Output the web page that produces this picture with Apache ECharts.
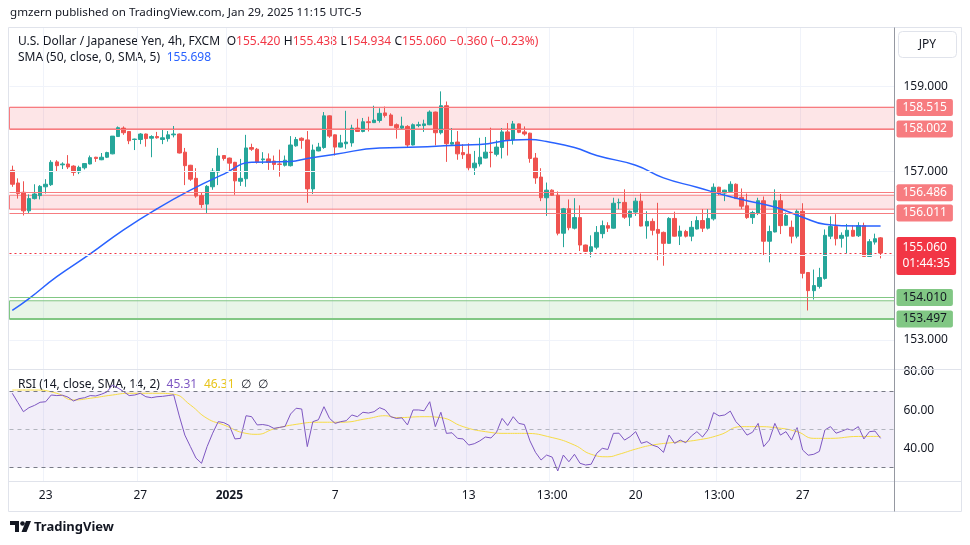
<!DOCTYPE html>
<html lang="en">
<head>
<meta charset="UTF-8">
<title>USDJPY 4h</title>
<script src="https://cdn.jsdelivr.net/npm/echarts@6/dist/echarts.min.js"></script>
<style>
html, body { margin: 0; padding: 0; background: #fff; }
#main { width: 970px; height: 545px; }
</style>
</head>
<body>
<div id="main"></div>
<script>
// 4h candles (oldest first)
var opens = [157.02,156.72,156.50,156.06,156.35,156.42,156.63,156.68,157.22,157.15,
157.17,157.12,156.98,157.08,157.17,157.33,157.27,157.33,157.41,157.82,
158.02,157.94,157.75,157.75,157.88,157.78,157.82,157.75,157.77,157.86,
157.88,157.45,157.14,156.83,156.42,156.22,156.63,156.98,157.37,157.31,
157.21,156.76,156.82,157.56,157.52,157.27,157.29,157.24,157.17,157.14,
157.13,157.60,157.78,157.74,156.58,157.48,157.56,158.31,157.86,157.57,
157.65,157.67,158.02,157.94,158.17,158.15,158.20,158.38,158.33,158.10,
158.02,158.06,157.62,158.08,158.08,158.10,158.40,157.91,158.55,157.64,
157.69,157.44,157.40,157.08,157.17,157.31,157.45,157.40,157.56,157.93,
157.74,158.12,157.93,157.90,157.31,156.86,156.37,156.55,156.43,155.53,
156.11,155.65,155.90,155.25,155.10,155.20,155.52,155.71,155.65,156.25,
156.26,155.91,156.03,156.29,155.70,155.81,155.62,155.55,155.29,155.88,
155.46,155.57,155.46,155.63,155.83,155.65,155.87,156.62,156.48,156.52,
156.69,156.38,156.18,155.90,156.01,156.30,155.34,155.56,156.30,155.72,
155.67,155.46,156.05,154.60,154.17,154.27,154.46,155.46,155.69,155.41,
155.46,155.60,155.47,155.71,154.98,155.32,155.42];
var closes = [156.69,156.47,156.06,156.35,156.46,156.64,156.69,157.21,157.13,157.17,
157.10,156.97,157.09,157.18,157.32,157.30,157.33,157.44,157.83,158.03,
157.91,157.72,157.76,157.88,157.77,157.82,157.79,157.79,157.86,157.88,
157.43,157.13,156.81,156.41,156.21,156.64,157.00,157.36,157.30,157.19,
156.77,156.83,157.55,157.52,157.22,157.29,157.21,157.16,157.16,157.26,
157.62,157.75,157.73,156.58,157.50,157.57,158.31,157.83,157.57,157.67,
157.69,158.02,157.94,158.17,158.15,158.21,158.37,158.32,158.08,158.03,
158.07,157.62,158.10,158.10,158.12,158.40,157.91,158.55,157.65,157.68,
157.41,157.39,157.08,157.19,157.33,157.45,157.44,157.57,157.93,157.74,
158.12,157.92,157.88,157.30,156.84,156.37,156.55,156.43,155.53,156.11,
155.66,155.90,155.25,155.10,155.21,155.55,155.71,155.65,156.24,156.26,
155.91,156.05,156.29,155.70,155.81,155.60,155.53,155.29,155.88,155.46,
155.58,155.46,155.67,155.83,155.65,155.88,156.62,156.47,156.55,156.69,
156.35,156.17,155.90,156.02,156.30,155.34,155.57,156.30,155.71,155.95,
155.46,156.05,154.58,154.17,154.29,154.48,155.48,155.69,155.40,155.48,
155.60,155.46,155.71,154.98,155.33,155.40,155.06];
var lows = [156.63,156.35,155.95,155.99,156.33,156.33,156.47,156.65,156.98,157.05,
157.05,156.89,156.93,157.04,157.16,157.22,157.26,157.31,157.40,157.81,
157.86,157.64,157.50,157.64,157.58,157.33,157.77,157.64,157.70,157.80,
157.42,156.67,156.77,156.37,156.13,156.01,156.56,156.67,157.25,157.01,
156.44,156.65,156.63,157.48,157.18,157.17,157.03,157.03,156.87,157.11,
157.11,157.58,157.53,156.25,156.46,157.47,157.53,157.79,157.37,157.56,
157.53,157.58,157.93,157.92,157.94,158.14,158.15,158.27,158.07,157.77,
158.00,157.56,157.61,158.04,157.93,158.09,157.61,157.87,157.22,157.63,
157.27,157.29,157.02,156.91,157.11,157.30,157.09,157.35,157.30,157.37,
157.63,157.90,157.84,157.20,156.70,156.29,155.94,156.42,155.48,155.20,
155.60,155.62,155.11,155.09,154.96,155.15,155.41,155.56,155.64,156.10,
155.87,155.70,155.94,155.69,155.40,155.48,154.89,154.76,155.28,155.45,
155.25,155.43,155.34,155.62,155.56,155.62,155.83,156.43,156.29,156.49,
156.34,156.10,155.87,155.75,155.96,155.01,154.84,155.55,155.51,155.71,
155.29,155.41,154.46,153.70,153.96,154.22,154.43,155.39,155.24,155.19,
155.05,155.45,155.44,154.97,154.97,155.26,154.934];
var highs = [157.13,156.83,156.76,156.45,156.69,156.67,156.81,157.26,157.26,157.21,
157.38,157.14,157.13,157.19,157.37,157.34,157.43,157.46,157.83,158.06,
158.06,157.95,157.77,157.90,157.89,157.85,157.93,157.98,157.95,158.07,
157.89,157.55,157.15,157.07,156.49,156.67,157.07,157.55,157.38,157.32,
157.22,157.29,157.86,157.65,157.55,157.45,157.42,157.37,157.51,157.37,
157.83,157.81,157.80,157.95,157.63,157.67,158.40,158.32,157.87,157.86,
158.43,158.10,158.24,158.26,158.29,158.55,158.49,158.53,158.37,158.13,
158.29,158.09,158.13,158.17,158.22,158.44,158.41,158.89,158.65,158.02,
157.95,157.64,157.66,157.48,157.79,157.81,158.03,157.73,158.02,158.14,
158.19,158.13,158.06,157.91,157.43,157.07,156.73,156.57,156.52,156.13,
156.33,156.36,156.19,155.26,155.48,155.70,155.83,155.79,156.37,156.35,
156.57,156.07,156.37,156.47,156.05,155.88,156.25,155.57,155.91,156.04,
155.71,155.61,155.82,155.93,156.10,156.10,156.71,156.63,156.56,156.76,
156.71,156.59,156.47,156.06,156.37,156.40,155.71,156.57,156.46,156.02,
155.83,156.09,156.24,154.60,154.67,154.71,155.62,155.93,155.98,155.55,
155.75,155.71,155.79,155.78,155.39,155.52,155.438];

// SMA(50) read at some bars
var smaIdx = [0,3,8,14,20,26,32,38,43,50,53,58,66,73,79,84,90,93,96,101,105,112,117,123,128,132,137,142,146,149,156];
var smaVal = [153.70,153.98,154.50,155.04,155.61,156.11,156.55,156.93,157.21,157.23,157.30,157.40,157.55,157.57,157.61,157.63,157.74,157.75,157.70,157.56,157.37,157.14,156.84,156.62,156.43,156.30,156.15,155.91,155.74,155.71,155.70];

// RSI(14) per bar
var rsi = [68.8,64.0,59.2,61.3,62.5,64.1,64.4,67.9,67.6,67.8,
66.8,64.8,66.0,66.5,67.6,67.4,68.3,69.5,73.1,71.5,
69.7,67.6,67.9,68.8,67.0,66.5,67.0,67.2,67.6,68.0,
57.0,47.0,41.0,35.0,32.3,41.0,48.0,54.0,53.5,52.0,
45.0,45.3,57.1,56.6,52.3,52.5,52.0,50.5,51.0,51.5,
58.0,61.0,60.6,41.0,54.0,55.0,61.8,55.7,53.1,54.0,
54.5,57.5,56.6,58.9,58.5,59.2,61.3,60.1,56.6,55.7,
56.0,52.3,60.1,60.1,59.7,64.4,51.4,58.9,47.9,48.2,
45.3,45.0,41.8,42.5,44.0,46.0,45.5,48.5,55.7,52.0,
56.6,53.1,52.5,44.0,38.0,34.0,36.6,35.5,28.3,36.6,
33.1,37.0,32.3,31.4,31.8,37.5,40.1,39.5,47.9,48.0,
44.4,46.2,48.8,42.7,43.6,41.8,40.8,38.0,47.0,42.7,
44.4,43.0,46.5,48.8,46.0,49.7,58.7,57.0,57.5,59.5,
54.0,51.0,47.0,48.5,53.1,41.0,44.4,53.1,47.0,48.8,
44.4,50.9,39.2,36.5,37.0,38.5,49.7,51.4,48.0,49.0,
50.2,49.5,51.4,45.0,48.8,49.1,45.31];

// RSI smoothing line read at some bars
var rsiSmaIdx = [0,4,8,11,14,18,21,26,29,32,35,38,42,44,47,51,55,59,64,67,69,74,77,81,85,89,92,97,101,104,107,109,112,115,119,123,127,131,134,137,141,144,147,152,156];
var rsiSmaVal = [70.5,70.5,68.8,65.3,66.2,67.9,68.8,68.8,68.3,62.7,55.7,52.3,47.9,47.4,50.2,52.6,53.7,53.7,55.7,57.1,56.1,56.6,56.1,51.4,48.8,47.9,47.9,45.7,41.8,37.0,35.7,37.0,39.7,41.8,43.2,44.4,47.0,51.4,51.4,50.9,48.8,45.3,45.3,46.3,46.31];

// time axis
var tickIndex = [6,23,39,58,82,97,112,127,142];
var tickText = ['23','27','2025','7','13','13:00','20','13:00','27'];

// drawn levels and zones
var priceGrid = [153,155,157,159];
var priceAxisLabels = [153,157,159];
var redTags = [158.515,158.002,156.486,156.011];
var greenTags = [154.010,153.497];
var lastPrice = 155.060;
var redZones = [[158.515,158.002],[156.43,156.10]];
var greenZone = [153.93,153.497];
var rsiBands = [70,50,30];
var rsiAxisLabels = [80,60,40];

var N = 159; // 157 bars + 2 empty slots on the right
var UP = '#26a69a', DOWN = '#ef5350';
var FONT = 'Noto Sans';

var chart = echarts.init(document.getElementById('main'));

var cats = [];
for (var i = 0; i < N; i++) cats.push(String(i));
var candles = opens.map(function (o, i) { return [o, closes[i], lows[i], highs[i]]; });
var smaData = smaIdx.map(function (k, i) { return [k, smaVal[i]]; });
var rsiSmaData = rsiSmaIdx.map(function (k, i) { return [k, rsiSmaVal[i]]; });

function isTick(idx) { return tickIndex.indexOf(idx) >= 0; }

var tagLabel = function (text, bg, fg) {
  return {
    show: true, position: 'end', distance: 2, formatter: text,
    color: fg, backgroundColor: bg, padding: [2, 6, 1, 6], borderRadius: 2,
    fontFamily: FONT, fontSize: 12, lineHeight: 14
  };
};

var levelLines = [];
priceGrid.forEach(function (v) {
  levelLines.push({
    yAxis: v,
    lineStyle: { color: '#f0f3fa', width: 1, type: 'solid' },
    label: priceAxisLabels.indexOf(v) >= 0 ? {
      show: true, position: 'end', distance: 9, formatter: v.toFixed(3),
      color: '#131722', fontFamily: FONT, fontSize: 12
    } : { show: false }
  });
});
redTags.forEach(function (v) {
  levelLines.push({ yAxis: v, lineStyle: { color: '#f77c80', width: 1, type: 'solid' }, label: tagLabel(v.toFixed(3), '#f77c80', '#ffffff') });
});
greenTags.forEach(function (v, k) {
  levelLines.push({ yAxis: v, lineStyle: { color: '#81c784', width: k === 1 ? 2 : 1, type: 'solid' }, label: tagLabel(v.toFixed(3), '#81c784', '#131722') });
});
var priceTag = tagLabel(lastPrice.toFixed(3) + '\n01:44:35', '#f23645', '#ffffff');
priceTag.padding = [3, 6, 3, 6];
priceTag.lineHeight = 16;
priceTag.offset = [0, 3];
levelLines.push({ yAxis: lastPrice, lineStyle: { color: '#f23645', width: 1, type: [2, 3] }, label: priceTag });

var zoneAreas = redZones.map(function (z) {
  return [{ yAxis: z[0], itemStyle: { color: 'rgba(242,54,69,0.13)', borderColor: '#f77c80', borderWidth: 1 } }, { yAxis: z[1] }];
});
zoneAreas.push([{ yAxis: greenZone[0], itemStyle: { color: 'rgba(76,175,80,0.13)', borderColor: '#81c784', borderWidth: 1 } }, { yAxis: greenZone[1] }]);

var rsiLines = rsiBands.map(function (v) {
  return { yAxis: v, lineStyle: { color: v === 50 ? '#b2b5be' : '#787b86', width: 1, type: [4, 4] }, label: { show: false } };
});
rsiAxisLabels.forEach(function (v) {
  rsiLines.push({
    yAxis: v, lineStyle: { color: 'rgba(0,0,0,0)', width: 1 },
    label: { show: true, position: 'end', distance: 9, formatter: v.toFixed(2), color: '#131722', fontFamily: FONT, fontSize: 12 }
  });
});

var vSplit = { show: true, interval: function (idx) { return isTick(idx); }, lineStyle: { color: '#f0f3fa', width: 1 } };

var option = {
  animation: false,
  backgroundColor: '#ffffff',
  textStyle: { fontFamily: FONT },
  grid: [
    { left: 9.5, right: 75.5, top: 28, height: 341 },
    { left: 9.5, right: 75.5, top: 369, height: 112.7 }
  ],
  xAxis: [
    { type: 'category', gridIndex: 0, data: cats, boundaryGap: true,
      axisLine: { show: false }, axisTick: { show: false }, axisLabel: { show: false }, splitLine: vSplit },
    { type: 'category', gridIndex: 1, data: cats, boundaryGap: true,
      axisLine: { show: false }, axisTick: { show: false }, splitLine: vSplit,
      axisLabel: {
        interval: function (idx) { return isTick(idx); },
        formatter: function (v, idx) {
          var t = tickText[tickIndex.indexOf(idx)];
          return t === '2025' ? '{b|2025}' : t;
        },
        color: '#131722', fontSize: 12, fontFamily: FONT, margin: 8,
        rich: { b: { fontWeight: 'bold', fontSize: 12, fontFamily: FONT, color: '#131722' } }
      } }
  ],
  yAxis: [
    { type: 'value', gridIndex: 0, position: 'right', min: 152.314, max: 160.391, scale: true,
      axisLabel: { show: false }, axisTick: { show: false }, splitLine: { show: false },
      axisLine: { show: false } },
    { type: 'value', gridIndex: 1, position: 'right', min: 22.7, max: 81.46,
      axisLabel: { show: false }, axisTick: { show: false }, splitLine: { show: false },
      axisLine: { show: false } }
  ],
  series: [
    {
      name: 'levels', type: 'line', xAxisIndex: 0, yAxisIndex: 0, data: [], z: 1, silent: true,
      markArea: { silent: true, data: zoneAreas },
      markLine: { silent: true, symbol: ['none', 'none'], animation: false, data: levelLines }
    },
    {
      name: 'USDJPY', type: 'candlestick', xAxisIndex: 0, yAxisIndex: 0, data: candles, z: 3,
      barWidth: 4,
      itemStyle: { color: UP, color0: DOWN, borderColor: UP, borderColor0: DOWN, borderWidth: 1 }
    },
    {
      name: 'SMA', type: 'line', xAxisIndex: 0, yAxisIndex: 0, data: smaData, z: 4,
      smooth: true, showSymbol: false, symbol: 'none',
      lineStyle: { color: '#2962ff', width: 1.5 }
    },
    {
      name: 'rsiLevels', type: 'line', xAxisIndex: 1, yAxisIndex: 1, data: [], z: 1, silent: true,
      markArea: { silent: true, data: [[{ yAxis: 70, itemStyle: { color: 'rgba(126,87,194,0.1)' } }, { yAxis: 30 }]] },
      markLine: { silent: true, symbol: ['none', 'none'], data: rsiLines }
    },
    {
      name: 'RSI', type: 'line', xAxisIndex: 1, yAxisIndex: 1, data: rsi, z: 3,
      showSymbol: false, symbol: 'none', lineStyle: { color: '#7e57c2', width: 1 }
    },
    {
      name: 'RSI SMA', type: 'line', xAxisIndex: 1, yAxisIndex: 1, data: rsiSmaData, z: 2,
      smooth: true, showSymbol: false, symbol: 'none', lineStyle: { color: '#f7dc45', width: 1 }
    }
  ],
  graphic: [
    // frame and pane separators
    { type: 'rect', z: 100, shape: { x: 8.5, y: 27.5, width: 953, height: 484 }, style: { fill: 'none', stroke: '#e0e3eb', lineWidth: 1 }, silent: true },
    { type: 'line', z: 100, shape: { x1: 8.5, y1: 369.5, x2: 961.5, y2: 369.5 }, style: { stroke: '#e0e3eb', lineWidth: 1 }, silent: true },
    { type: 'line', z: 100, shape: { x1: 8.5, y1: 481.5, x2: 961.5, y2: 481.5 }, style: { stroke: '#e0e3eb', lineWidth: 1 }, silent: true },
    { type: 'line', z: 100, shape: { x1: 894.5, y1: 27.5, x2: 894.5, y2: 511.5 }, style: { stroke: '#9598a1', lineWidth: 1 }, silent: true },
    // publisher line
    { type: 'text', x: 10, y: 13, style: { text: 'gmzern published on TradingView.com, Jan 29, 2025 11:15 UTC-5', fill: '#131722', font: '11.6px "Noto Sans"', verticalAlign: 'middle' } },
    // legends
    { type: 'text', x: 18, y: 42, style: {
      text: '{n|U.S. Dollar / Japanese Yen, 4h, FXCM}  {n|O}{r|155.420} {n|H}{r|155.438} {n|L}{r|154.934} {n|C}{r|155.060} {r|\u22120.360 (\u22120.23%)}',
      verticalAlign: 'middle',
      rich: { n: { fill: '#131722', fontSize: 12, fontFamily: FONT }, r: { fill: '#f23645', fontSize: 12, fontFamily: FONT } } } },
    { type: 'text', x: 18, y: 58, style: {
      text: '{n|SMA (50, close, 0, SMA, 5)}  {b|155.698}', verticalAlign: 'middle',
      rich: { n: { fill: '#131722', fontSize: 12, fontFamily: FONT }, b: { fill: '#2962ff', fontSize: 12, fontFamily: FONT } } } },
    { type: 'text', x: 18, y: 385, style: {
      text: '{n|RSI (14, close, SMA, 14, 2)}  {p|45.31}  {y|46.31}  {n|\u2205}  {n|\u2205}', verticalAlign: 'middle',
      rich: { n: { fill: '#131722', fontSize: 12, fontFamily: FONT }, p: { fill: '#7e57c2', fontSize: 12, fontFamily: FONT }, y: { fill: '#e8c41a', fontSize: 12, fontFamily: FONT } } } },
    // currency box
    { type: 'rect', z: 101, shape: { x: 898.5, y: 31.5, width: 58, height: 26, r: 4 }, style: { fill: '#ffffff', stroke: '#e0e3eb', lineWidth: 1 } },
    { type: 'text', z: 102, x: 927.5, y: 45, style: { text: 'JPY', fill: '#131722', font: '12px "Noto Sans"', align: 'center', verticalAlign: 'middle' } },
    // TradingView mark
    { type: 'polygon', shape: { points: [[10, 521], [19, 521], [19, 532], [15, 532], [15, 525], [10, 525]] }, style: { fill: '#131722' } },
    { type: 'circle', shape: { cx: 22.5, cy: 523.5, r: 2.3 }, style: { fill: '#131722' } },
    { type: 'polygon', shape: { points: [[26, 521], [31, 521], [26.5, 532], [21.5, 532]] }, style: { fill: '#131722' } },
    { type: 'text', x: 34, y: 527, style: { text: 'TradingView', fill: '#131722', font: 'bold 13px "Noto Sans"', verticalAlign: 'middle' } }
  ]
};

chart.setOption(option);
</script>
</body>
</html>
